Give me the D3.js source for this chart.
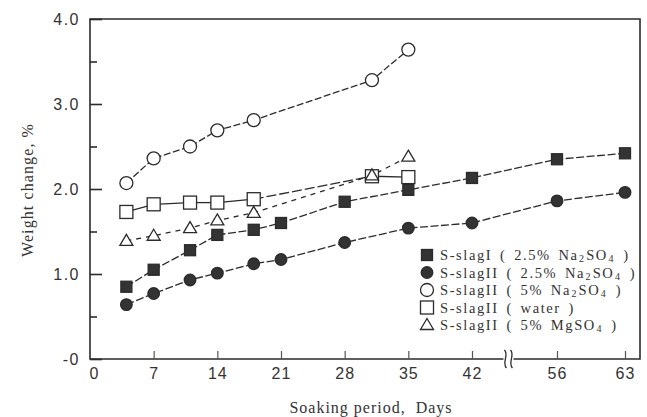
<!DOCTYPE html>
<html><head><meta charset="utf-8">
<script src="https://cdn.jsdelivr.net/npm/d3@7"></script>
<style>body{margin:0;background:#fff}</style>
</head><body><svg id="c" width="647" height="417"></svg>
<script>
const yTicks = [0, 1, 2, 3, 4];
const yTickLabels = ["-0", "1.0", "2.0", "3.0", "4.0"];
const yMinorTicks = [0.5, 1.5, 2.5, 3.5];
const xTicks = [0, 7, 14, 21, 28, 35, 42, 56, 63];
const daysLong = [4, 7, 11, 14, 18, 21, 28, 35, 42, 56, 63];
const daysShort = [4, 7, 11, 14, 18, 31, 35];
const slagI_Na25 = [0.85, 1.05, 1.28, 1.46, 1.52, 1.60, 1.85, 1.99, 2.13, 2.35, 2.42];
const slagII_Na25 = [0.64, 0.77, 0.93, 1.01, 1.12, 1.17, 1.37, 1.54, 1.60, 1.86, 1.96];
const slagII_Na5 = [2.07, 2.36, 2.50, 2.69, 2.81, 3.28, 3.64];
const slagII_water = [1.73, 1.82, 1.84, 1.84, 1.88, 2.15, 2.14];
const slagII_Mg5 = [1.39, 1.45, 1.54, 1.63, 1.72, 2.16, 2.38];
const legendLabels = [
  "S-slagI ( 2.5% Na_2SO_4 )",
  "S-slagII ( 2.5% Na_2SO_4 )",
  "S-slagII ( 5% Na_2SO_4 )",
  "S-slagII ( water )",
  "S-slagII ( 5% MgSO_4 )"
];
const yTitle = "Weight change, %";
const xTitle = "Soaking period,  Days";

const ink = "#2b2b2b";
const serif = "Liberation Serif, Times New Roman, serif";
const sans = "Liberation Sans, Arial, sans-serif";
const svg = d3.select("#c");
const x = d3.scaleLinear().domain([0, 42, 56, 63]).range([90, 472, 557, 625]);
const y = d3.scaleLinear().domain([0, 4]).range([359, 19]);
const frameRight = 640;

const series = [
  {days: daysLong, vals: slagI_Na25, shape: "square", fill: true, dash: "8,2.5"},
  {days: daysLong, vals: slagII_Na25, shape: "circle", fill: true, dash: "8,2.5"},
  {days: daysShort, vals: slagII_Na5, shape: "circle", fill: false, dash: "7,2.5"},
  {days: daysShort, vals: slagII_water, shape: "square", fill: false, dash: null, gapDash: "10,3"},
  {days: daysShort, vals: slagII_Mg5, shape: "triangle", fill: false, dash: "5,5"}
];

// frame
svg.append("path")
  .attr("d", `M${x(0)},${y(4)}H${frameRight}V${y(0)}H${x(0)}Z`)
  .attr("fill", "none").attr("stroke", ink).attr("stroke-width", 1.6);

// y axis
const yAxis = d3.axisLeft(y).tickValues(yTicks).tickSize(-12).tickPadding(10)
  .tickFormat((d, i) => yTickLabels[i]);
const gy = svg.append("g").attr("transform", `translate(${x(0)},0)`).call(yAxis);
gy.select(".domain").remove();
gy.selectAll("line").attr("stroke", ink).attr("stroke-width", 1.6);
gy.selectAll("text").attr("font-family", sans)
  .attr("font-size", 16).attr("letter-spacing", 1.5).attr("fill", "#333");
const gym = svg.append("g").attr("transform", `translate(${x(0)},0)`)
  .call(d3.axisLeft(y).tickValues(yMinorTicks).tickSize(-7).tickFormat(""));
gym.select(".domain").remove();
gym.selectAll("line").attr("stroke", ink).attr("stroke-width", 1.6);

// x axis
const xAxis = d3.axisBottom(x).tickValues(xTicks).tickSize(-8).tickPadding(9)
  .tickFormat(d3.format("d"));
const gx = svg.append("g").attr("transform", `translate(0,${y(0)})`).call(xAxis);
gx.select(".domain").remove();
gx.selectAll("line").attr("stroke", "#555").attr("stroke-width", 1.2);
gx.selectAll(".tick").filter(d => d === 0).select("line").remove();
gx.selectAll(".tick").filter(d => d === 0).select("text").attr("dx", 4);
gx.selectAll("text").attr("font-family", sans)
  .attr("font-size", 16).attr("letter-spacing", 1).attr("fill", "#333");

// axis break
const bx = x(48);
const by = y(0);
svg.append("rect").attr("x", bx - 5).attr("y", by - 3).attr("width", 10).attr("height", 6).attr("fill", "#fff");
[-3, 3].forEach(o => {
  svg.append("path")
    .attr("d", `M${bx + o - 1},${by - 9} C${bx + o + 4},${by - 4} ${bx + o - 4},${by + 3} ${bx + o + 1},${by + 9}`)
    .attr("fill", "none").attr("stroke", ink).attr("stroke-width", 1.3);
});

// lines
series.forEach(s => {
  const pts = s.days.map((d, i) => [x(d), y(s.vals[i])]);
  if (s.gapDash) {
    for (let i = 1; i < pts.length; i++) {
      const longGap = s.days[i] - s.days[i - 1] > 7;
      svg.append("path").attr("d", d3.line()([pts[i - 1], pts[i]]))
        .attr("fill", "none").attr("stroke", ink).attr("stroke-width", 1.3)
        .attr("stroke-dasharray", longGap ? s.gapDash : null);
    }
  } else {
    svg.append("path").attr("d", d3.line()(pts))
      .attr("fill", "none").attr("stroke", ink).attr("stroke-width", 1.3)
      .attr("stroke-dasharray", s.dash);
  }
});

function marker(g, s, cx, cy) {
  const stroke = ink;
  const fill = s.fill ? "#333" : "#fff";
  if (s.shape === "square") {
    const h = s.fill ? 5.5 : 6.5;
    g.append("rect").attr("x", cx - h).attr("y", cy - h).attr("width", 2 * h).attr("height", 2 * h)
      .attr("fill", fill).attr("stroke", stroke).attr("stroke-width", 1.3);
  } else if (s.shape === "circle") {
    g.append("circle").attr("cx", cx).attr("cy", cy).attr("r", s.fill ? 5.8 : 6.5)
      .attr("fill", fill).attr("stroke", stroke).attr("stroke-width", 1.3);
  } else {
    const w = 6.5;
    g.append("path").attr("d", `M${cx},${cy - 6.5}L${cx + w},${cy + 4.5}L${cx - w},${cy + 4.5}Z`)
      .attr("fill", fill).attr("stroke", stroke).attr("stroke-width", 1.3);
  }
}

series.forEach(s => {
  const g = svg.append("g");
  s.days.forEach((d, i) => marker(g, s, x(d), y(s.vals[i])));
});

// legend
const lg = svg.append("g");
legendLabels.forEach((lab, i) => {
  const ly = 255 + i * 17.5;
  marker(lg, series[i], 427, ly);
  const t = lg.append("text").attr("x", 440).attr("y", ly + 5)
    .attr("font-family", serif)
    .attr("font-size", 14.5).attr("letter-spacing", 1.6).attr("word-spacing", 2.5).attr("fill", "#333");
  const parts = lab.split(/_(\d)/);
  parts.forEach((p, j) => {
    if (j % 2 === 1) {
      t.append("tspan").attr("font-size", 10).attr("dy", 2).attr("dx", 0.5).text(p);
    } else if (p.length) {
      const ts = t.append("tspan").text(p);
      if (j > 0) ts.attr("dy", -2).attr("dx", 0.5);
    }
  });
});

// titles
svg.append("text").attr("transform", "translate(33,190) rotate(-90)")
  .attr("text-anchor", "middle").attr("font-family", serif)
  .attr("font-size", 16).attr("letter-spacing", 1.1).attr("fill", "#333").text(yTitle);
svg.append("text").attr("x", 371).attr("y", 413)
  .attr("text-anchor", "middle").attr("font-family", serif)
  .attr("font-size", 16).attr("letter-spacing", 1).attr("fill", "#333").attr("xml:space", "preserve").text(xTitle);
</script></body></html>
